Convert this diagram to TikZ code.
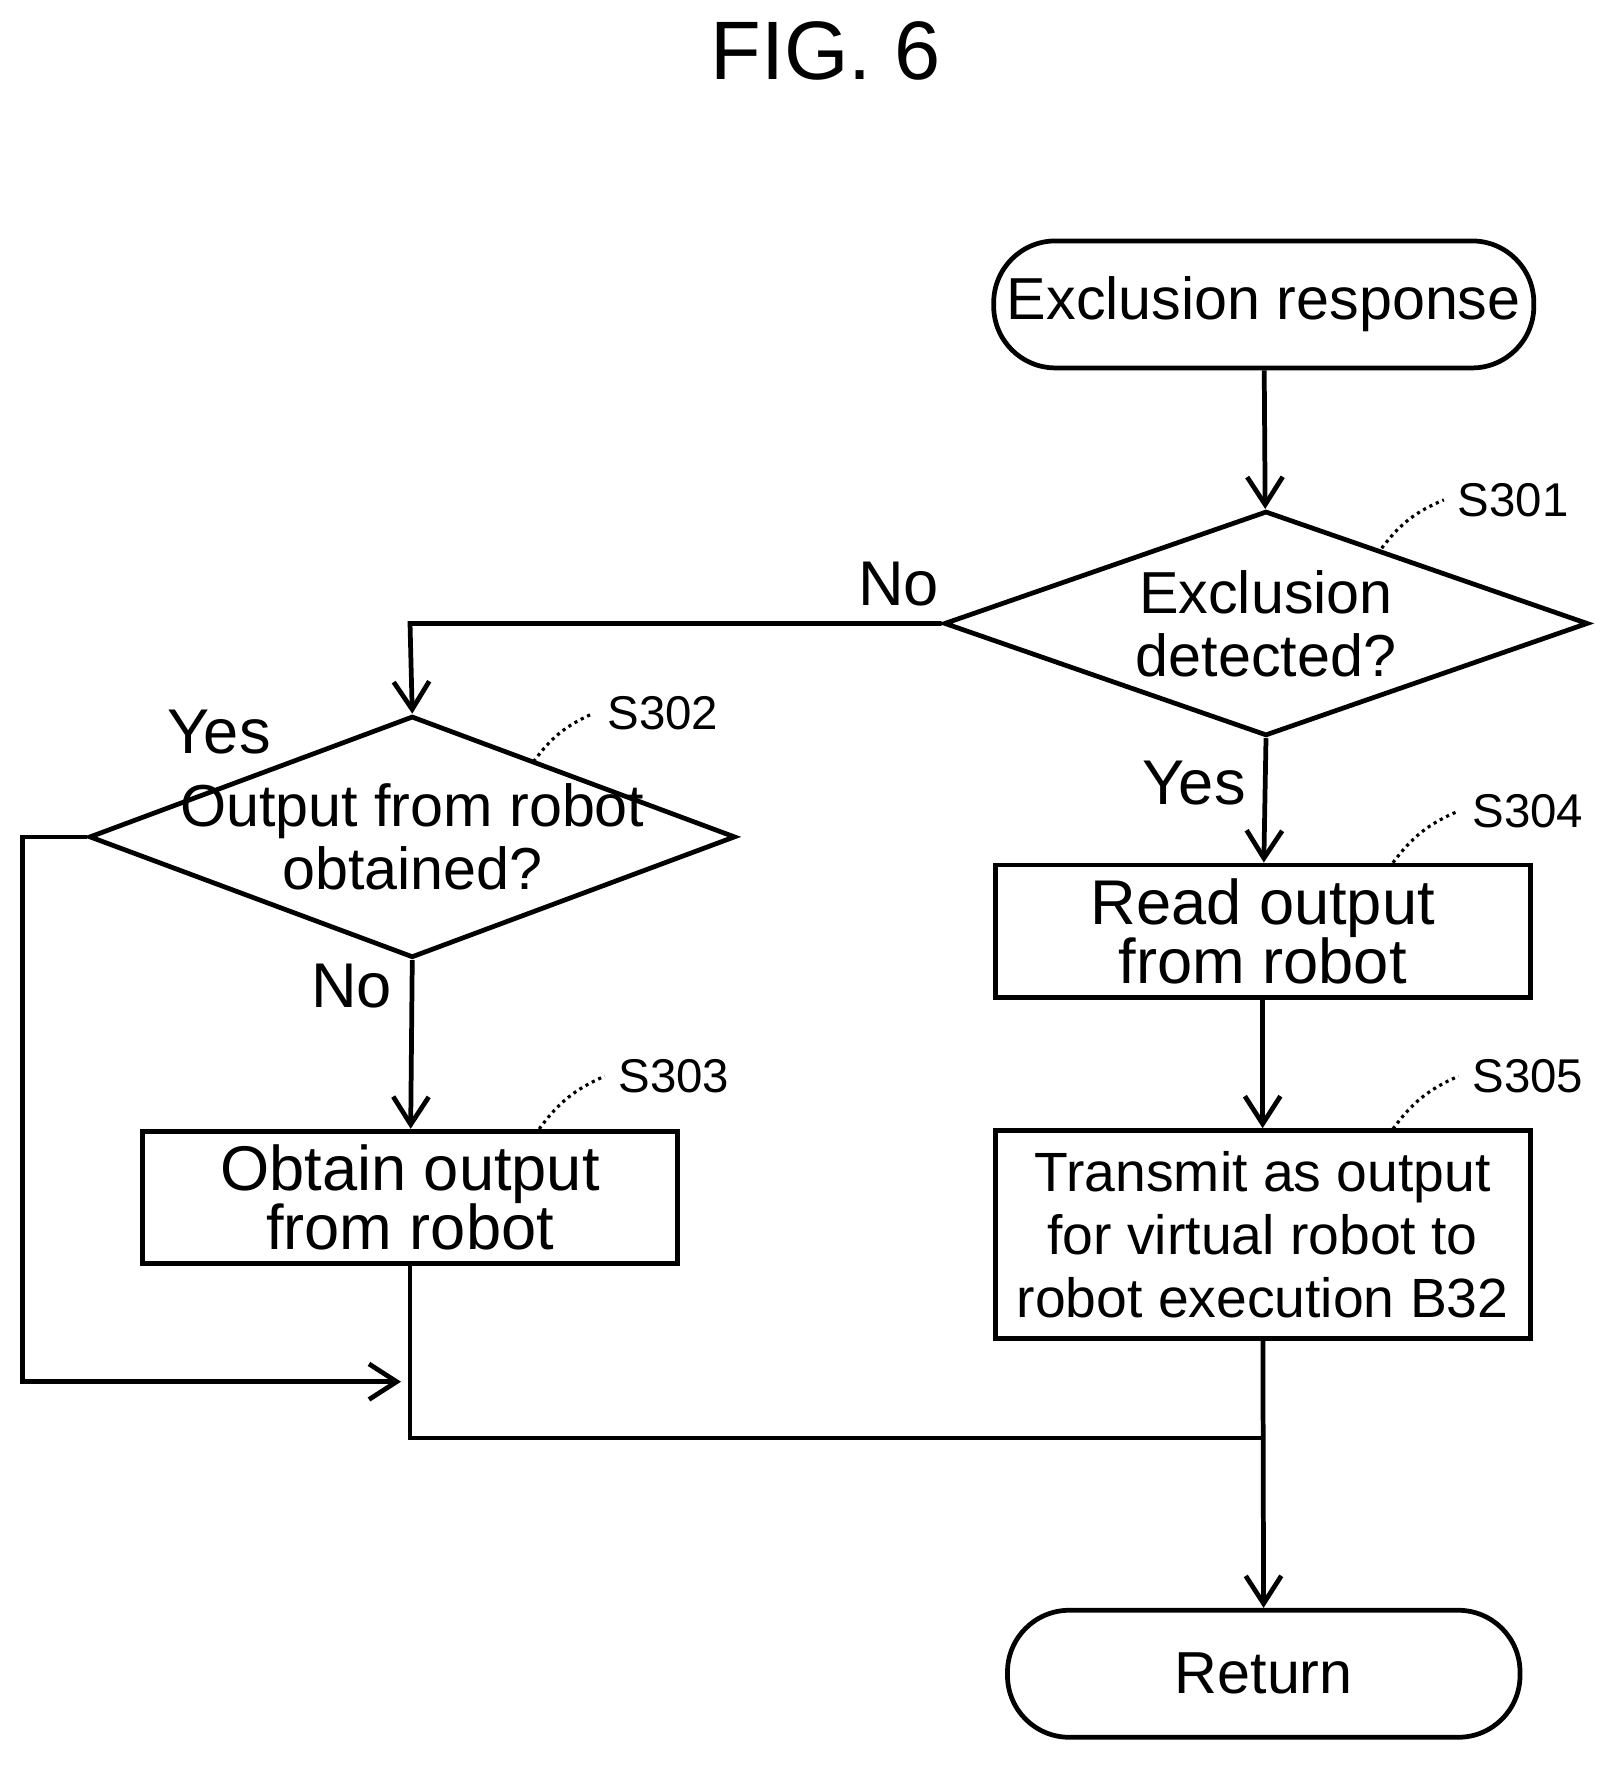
\documentclass[tikz,border=0pt]{standalone}
\usepackage{fontspec}
\setmainfont{Liberation Sans}
\usetikzlibrary{arrows.meta, shapes, positioning}
\tikzset{terminal/.style={draw=black, line width=1.2pt, rectangle, rounded corners=0.55cm, minimum width=4.56cm, minimum height=1.13cm, font=\fontsize{15}{18}\selectfont},
decision/.style={diamond, draw=black, line width=1.2pt, inner sep=0pt, minimum width=5.73cm, minimum height=2cm},
process/.style={draw=black, line width=1.2pt, rectangle, minimum width=4.76cm, inner sep=1pt, align=center},
steplabel/.style={font=\fontsize{12}{14}\selectfont},
flow/.style={line width=1.2pt, -{Straight Barb[length=7pt, width=9pt]}}}
\begin{document}
\begin{tikzpicture}[x=0.01cm, y=-0.01cm]
        \useasboundingbox (0,0) rectangle (1440,1573);
        % Title
        \node[font=\fontsize{21}{24}\selectfont] (title) at (735,45) {FIG. 6};
        % Nodes
        \node[terminal] (start) at (1125,271) {Exclusion response};
        \node[decision] (s301) at (1127,555) {};
        \node[align=center, font=\fontsize{15}{16}\selectfont] at (s301) {Exclusion\\detected?};
        \node[decision, minimum width=5.75cm, minimum height=2.15cm] (s302) at (367,745) {};
        \node[align=center, font=\fontsize{15}{16}\selectfont] at (s302) {Output from robot\\obtained?};
        \node[process, minimum height=1.18cm, font=\fontsize{16}{15}\selectfont] (s303) at (365,1066) {Obtain output\\from robot};
        \node[process, minimum height=1.18cm, font=\fontsize{16}{15}\selectfont] (s304) at (1124,829) {Read output\\from robot};
        \node[process, minimum height=1.85cm, font=\fontsize{14}{16}\selectfont] (s305) at (1124,1099) {Transmit as output\\for virtual robot to\\robot execution B32};
        \node[terminal] (ret) at (1125,1490) {Return};
        % Step labels
        \node[steplabel] (l301) at (1347,445) {S301};
        \node[steplabel] (l302) at (590,635) {S302};
        \node[steplabel] (l303) at (600,958) {S303};
        \node[steplabel] (l304) at (1360,722) {S304};
        \node[steplabel] (l305) at (1360,958) {S305};
        \draw[densely dotted, line width=0.8pt] (1230,488) to[bend left=15] (l301.west);
        \draw[densely dotted, line width=0.8pt] (475,678) to[bend left=15] (l302.west);
        \draw[densely dotted, line width=0.8pt] (480,1005) to[bend left=15] (l303.west);
        \draw[densely dotted, line width=0.8pt] (1240,768) to[bend left=15] (l304.west);
        \draw[densely dotted, line width=0.8pt] (1240,1005) to[bend left=15] (l305.west);
        % Connectors
        \coordinate (c1) at (365,555);
        \coordinate (c2) at (20,745);
        \coordinate (c3) at (20,1230);
        \coordinate (c4) at (357,1230);
        \coordinate (c5) at (365,1280);
        \coordinate (c6) at (1125,1280);
        \draw[flow] (start) -- (s301);
        \draw[flow] (s301.west) -- (c1) -- (s302.north);
        \draw[flow] (s302.west) -- (c2) -- (c3) -- (c4);
        \draw[flow] (s302.south) -- (s303);
        \draw[line width=1.2pt] (s303.south) -- (c5) -- (c6);
        \draw[flow] (s301.south) -- (s304);
        \draw[flow] (s304) -- (s305);
        \draw[flow] (s305) -- (ret);
        % Branch labels
        \node[font=\fontsize{16}{18}\selectfont] (no1) at (800,520) {No};
        \node[font=\fontsize{16}{18}\selectfont] (yes1) at (1063,697) {Yes};
        \node[font=\fontsize{16}{18}\selectfont] (yes2) at (195,652) {Yes};
        \node[font=\fontsize{16}{18}\selectfont] (no2) at (313,878) {No};
    \end{tikzpicture}
\end{document}
